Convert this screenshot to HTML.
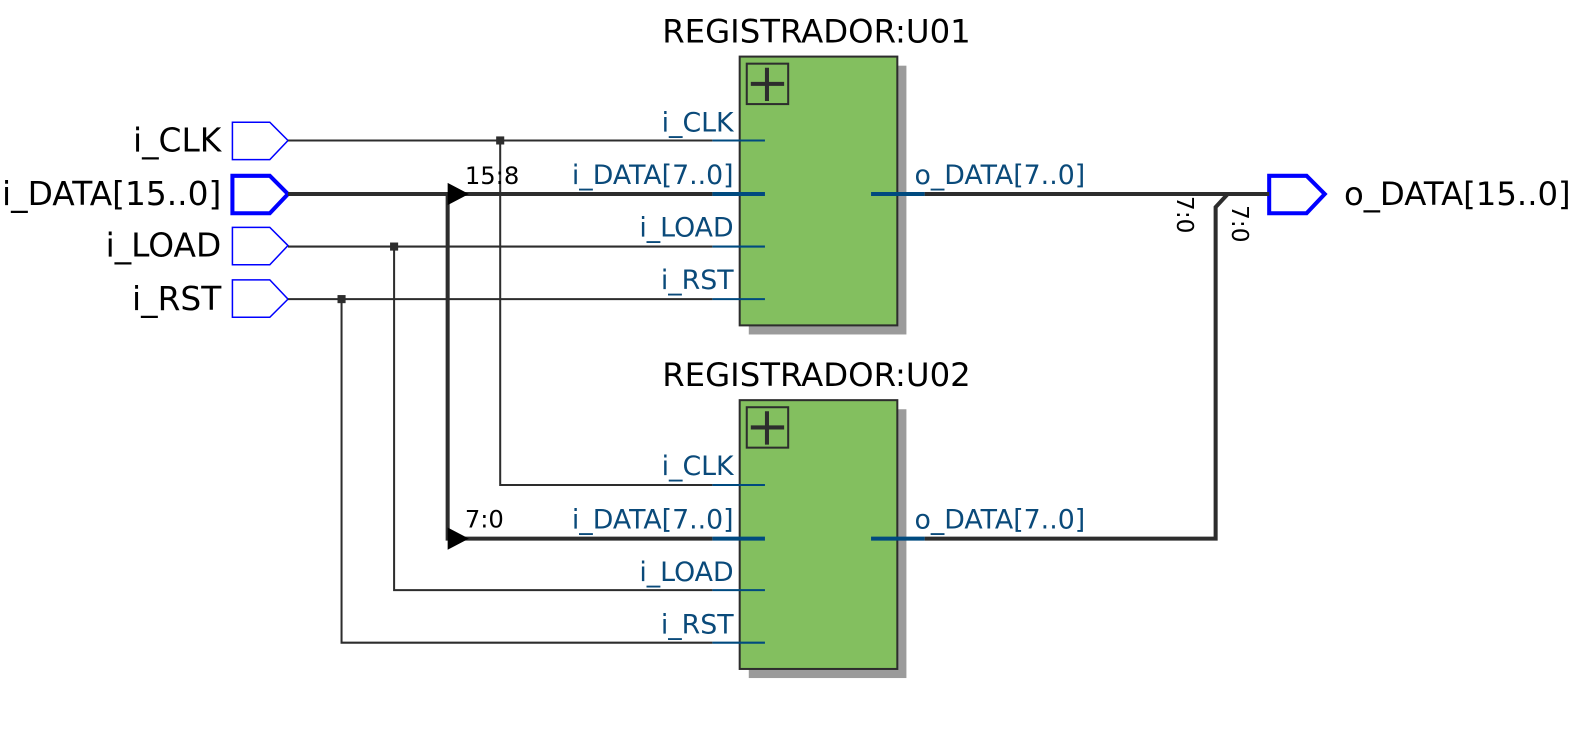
<!DOCTYPE html>
<html><head><style>
html,body{margin:0;padding:0;background:#fff;}
svg{display:block;}
text{font-family:"DejaVu Sans","Liberation Sans",sans-serif;}
</style></head><body>
<svg width="1582" height="737" viewBox="0 0 1582 737" xmlns="http://www.w3.org/2000/svg">
<g transform="scale(1.0105)">
<g fill="none" stroke="#0000ff" stroke-width="1.5">
<polygon points="230,121 267,121 285,139 267,158 230,158"/>
<polygon points="230,225 267,225 285,243 267,262 230,262"/>
<polygon points="230,277 267,277 285,296 267,314 230,314"/>
</g>
<polygon points="230,174 267,174 285,192 267,211 230,211" fill="none" stroke="#0000ff" stroke-width="4"/>
<polygon points="1256,174 1293,174 1311,192 1293,211 1256,211" fill="none" stroke="#0000ff" stroke-width="4"/>
<g font-size="32.5" fill="#000" text-anchor="end">
<text x="219" y="150">i_CLK</text>
<text x="219" y="203">i_DATA[15..0]</text>
<text x="219" y="254">i_LOAD</text>
<text x="219" y="307">i_RST</text>
</g>
<text x="1330" y="203" font-size="32">o_DATA[15..0]</text>
<g stroke="#2d2d2d" stroke-width="2" fill="none">
<path d="M285,139 H705 M495,139 V480 H705"/>
<path d="M285,244 H705 M390,244 V584 H705"/>
<path d="M285,296 H705 M338,296 V636 H705"/>
</g>
<g fill="#2d2d2d">
<rect x="491" y="135" width="8" height="8"/>
<rect x="386" y="240" width="8" height="8"/>
<rect x="334" y="292" width="8" height="8"/>
</g>
<g stroke="#2d2d2d" stroke-width="4" fill="none">
<path d="M285,192 H705"/>
<path d="M443,192 V533 H705"/>
<path d="M915,192 H1256"/>
<path d="M915,533 H1203 V205 L1215,192"/>
</g>
<polygon points="443,181 464,192 443,203" fill="#000"/>
<polygon points="443,522 464,533 443,544" fill="#000"/>
<g font-size="24" fill="#000">
<text x="460" y="182">15:8</text>
<text x="460" y="522">7:0</text>
<text transform="translate(1165,194) rotate(90)" font-size="23">7:0</text>
<text transform="translate(1219,203) rotate(90)" font-size="23">7:0</text>
</g>
<g>
<rect x="741" y="65" width="156" height="266" fill="#9b9b9b"/>
<rect x="732" y="56" width="156" height="266" fill="#83bf5f" stroke="#2d2d2d" stroke-width="2"/>
<rect x="739" y="63" width="41" height="40" fill="none" stroke="#2d2d2d" stroke-width="2"/>
<path d="M743,83 H776 M759,67 V100" stroke="#2d2d2d" stroke-width="4"/>
<rect x="741" y="405" width="156" height="266" fill="#9b9b9b"/>
<rect x="732" y="396" width="156" height="266" fill="#83bf5f" stroke="#2d2d2d" stroke-width="2"/>
<rect x="739" y="403" width="41" height="40" fill="none" stroke="#2d2d2d" stroke-width="2"/>
<path d="M743,423 H776 M759,407 V440" stroke="#2d2d2d" stroke-width="4"/>
</g>
<g font-size="32" fill="#000" text-anchor="middle">
<text x="808" y="42">REGISTRADOR:U01</text>
<text x="808" y="382">REGISTRADOR:U02</text>
</g>
<g stroke="#004a7f" stroke-width="2">
<path d="M705,139 H757 M705,244 H757 M705,296 H757 M705,480 H757 M705,584 H757 M705,636 H757"/>
</g>
<g stroke="#004a7f" stroke-width="4">
<path d="M705,192 H757 M862,192 H915 M705,533 H757 M862,533 H915"/>
</g>
<g font-size="26.5" fill="#0a4a7a" text-anchor="end">
<text x="726" y="130">i_CLK</text>
<text x="726" y="182">i_DATA[7..0]</text>
<text x="726" y="234">i_LOAD</text>
<text x="726" y="286">i_RST</text>
<text x="726" y="470">i_CLK</text>
<text x="726" y="523">i_DATA[7..0]</text>
<text x="726" y="575">i_LOAD</text>
<text x="726" y="627">i_RST</text>
</g>
<g font-size="26.5" fill="#0a4a7a">
<text x="905" y="182">o_DATA[7..0]</text>
<text x="905" y="523">o_DATA[7..0]</text>
</g>
</g>
</svg>
</body></html>
